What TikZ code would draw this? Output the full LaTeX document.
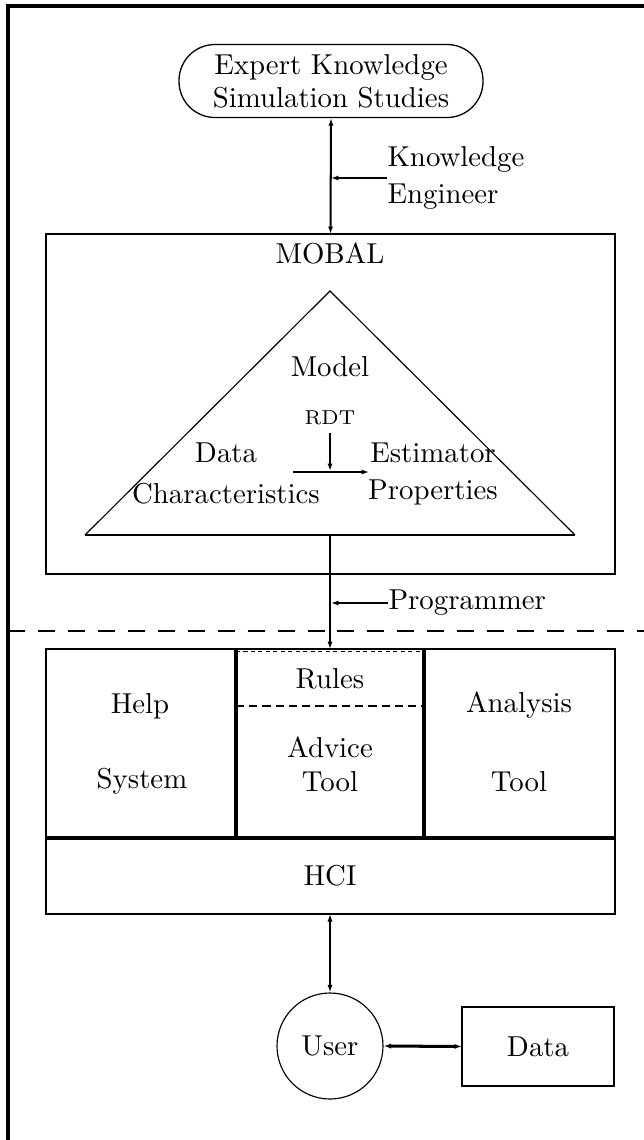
\documentclass[tikz,border=0pt]{standalone}
\usetikzlibrary{arrows.meta,fit}
\begin{document}
\begin{tikzpicture}[x=0.3472pt,y=-0.3472pt,
  txt/.style={font=\fontsize{10}{12}\selectfont, inner sep=0pt},
  smalltxt/.style={font=\fontsize{7}{8}\selectfont, inner sep=0pt},
  thinln/.style={line width=0.4pt},
  medln/.style={line width=0.7pt},
  thickln/.style={line width=1.05pt},
  arr/.style={medln,-{Latex[length=2.6pt,width=1.8pt]}},
  darr/.style={medln,{Latex[length=2.6pt,width=1.8pt]}-{Latex[length=2.6pt,width=1.8pt]}},
  boxfit/.style={inner sep=0pt, outer sep=0pt},
]
\useasboundingbox (0,0) rectangle (644,1140);

% outer frame (cropped)
\coordinate (frTR) at (644,6);
\coordinate (frTL) at (8,6);
\coordinate (frBL) at (8,1140);
\draw[thickln] (frTR) -- (frTL) -- (frBL);

% expert knowledge oval
\node[draw, line width=0.45pt, rounded corners=36*0.3472pt,
      minimum width=304*0.3472pt, minimum height=73*0.3472pt,
      inner sep=0pt, align=center, font=\fontsize{10}{11.5}\selectfont]
      (expert) at (331,81) {Expert Knowledge\\Simulation Studies};

% MOBAL box
\coordinate (mobNW) at (46,234);
\coordinate (mobSE) at (615,574);
\node[boxfit, draw, medln, fit=(mobNW)(mobSE)] (mobal) {};
\node[txt] (mobaltxt) at (330,253) {MOBAL};

% knowledge engineer
\draw[darr] (expert.south) -- (mobal.north);
\node[txt, anchor=west, align=left, font=\fontsize{10}{12.8}\selectfont] (ke) at (387,178) {Knowledge\\Engineer};
\coordinate (keTip) at (331,178);
\draw[arr] (ke.west) -- (keTip);

% triangle
\coordinate (apex) at (330,291);
\coordinate (bl) at (85,535);
\coordinate (br) at (575,535);
\coordinate (basemid) at (330,535);
\draw[thinln] (bl) -- (apex) -- (br);
\draw[medln] (bl) -- (br);

\node[txt] (model) at (330,367) {Model};
\node[smalltxt] (rdt) at (330,418) {RDT};
\node[txt] (data1) at (226,453) {Data};
\node[txt] (data2) at (226,494) {Characteristics};
\node[txt] (est1) at (433,453) {Estimator};
\node[txt] (est2) at (433,492) {Properties};
\coordinate (rdtS) at (330,433);
\coordinate (rdtE) at (330,471);
\coordinate (hL) at (293,472);
\coordinate (hR) at (369,472);
\draw[arr] (rdtS) -- (rdtE);
\draw[arr] (hL) -- (hR);

% lower block
\coordinate (helpNW) at (46,649);
\coordinate (helpSE) at (236,838);
\coordinate (advNW) at (236,649);
\coordinate (advSE) at (424,838);
\coordinate (anaNW) at (424,649);
\coordinate (anaSE) at (615,838);
\coordinate (hciNW) at (46,838);
\coordinate (hciSE) at (615,914);
\node[boxfit, draw, medln, fit=(helpNW)(helpSE)] (help) {};
\node[boxfit, draw, medln, fit=(anaNW)(anaSE)] (analysis) {};
\node[boxfit, draw, medln, fit=(hciNW)(hciSE)] (hci) {};
\node[boxfit, fit=(advNW)(advSE)] (advice) {};
\draw[thickln] (advice.north west) -- (advice.south west);
\draw[thickln] (advice.north east) -- (advice.south east);
\draw[thickln] (help.south west) -- (analysis.south east);
\draw[medln] (advice.north west) -- (advice.north east);
\draw[line width=0.45pt, dash pattern=on 1.4pt off 1.2pt] ([yshift=-0.8pt]advice.north west) -- ([yshift=-0.8pt]advice.north east);
\coordinate (rulesL) at (236,706);
\coordinate (rulesR) at (424,706);
\draw[line width=0.85pt, dash pattern=on 2.8pt off 1.8pt] (rulesL) -- (rulesR);

\node[txt] (helpt) at (140,706) {Help};
\node[txt] (systemt) at (142,781) {System};
\node[txt] (rulest) at (330,679) {Rules};
\node[txt] (advicet) at (330,747) {Advice};
\node[txt] (tool1) at (330,782) {Tool};
\node[txt] (anat) at (519,705) {Analysis};
\node[txt] (tool2) at (519,782) {Tool};
\node[txt] (hcit) at (330,876) {HCI};

% programmer / dashed boundary
\coordinate (advTop) at (330,649);
\draw[arr] (basemid) -- (advTop);
\node[txt, anchor=west] (prog) at (388,603) {Programmer};
\coordinate (progTip) at (331,603);
\draw[arr] (prog.west) -- (progTip);
\coordinate (dashL) at (8,631);
\coordinate (dashR) at (644,631);
\draw[medln, dash pattern=on 5.9pt off 4.5pt] (dashL) -- (dashR);

% user and data
\node[draw, circle, thinln, minimum size=106*0.3472pt, inner sep=0pt, font=\fontsize{10}{12}\selectfont] (user) at (330,1046) {User};
\coordinate (dataNW) at (462,1007);
\coordinate (dataSE) at (614,1086);
\node[boxfit, draw, medln, fit=(dataNW)(dataSE)] (data) {};
\node[txt] (datat) at (538,1047) {Data};
\draw[darr] (hci.south -| user.north) -- (user.north);
\draw[darr, line width=1.05pt] (user.east) -- (data.west);
\end{tikzpicture}
\end{document}
